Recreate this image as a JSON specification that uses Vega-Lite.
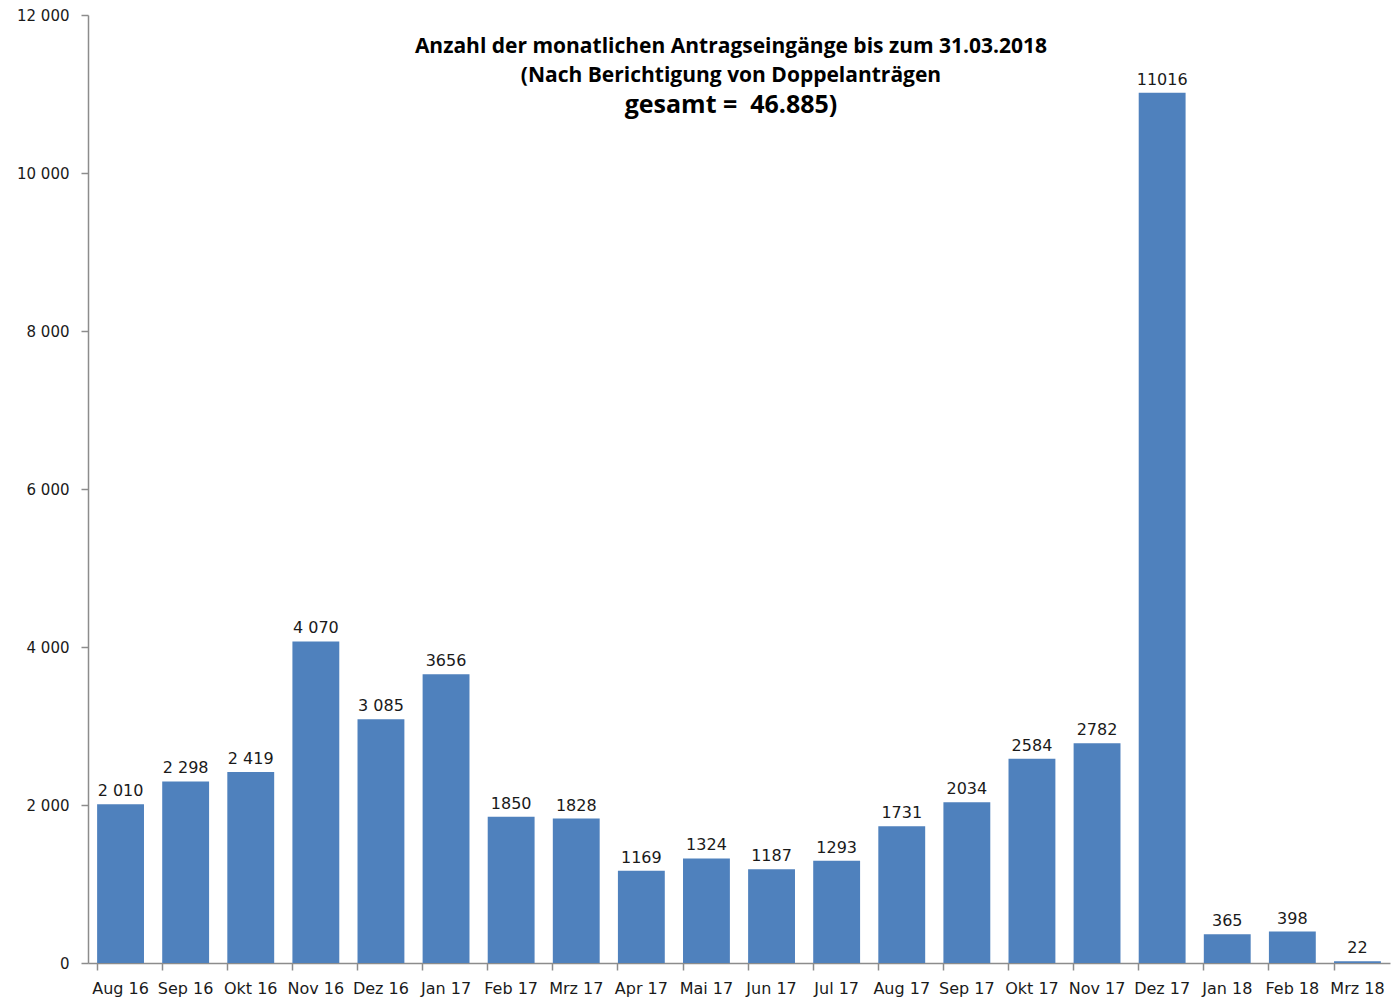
{
  "$schema": "https://vega.github.io/schema/vega-lite/v6.json",
  "width": 1302,
  "height": 948,
  "autosize": {"type": "none"},
  "padding": {"left": 88, "top": 15, "right": 10, "bottom": 35},
  "background": "white",
  "config": {
    "locale": {"number": {"decimal": ",", "thousands": " ", "grouping": [3], "currency": ["", " €"]}},
    "view": {"stroke": null},
    "font": "DejaVu Sans"
  },
  "title": {
    "text": ["Anzahl der monatlichen Antragseingänge bis zum 31.03.2018", "(Nach Berichtigung von Doppelanträgen"],
    "subtitle": "gesamt =\u00a0 46.885)",
    "anchor": "middle",
    "frame": "group",
    "orient": "top",
    "offset": -110,
    "font": "Open Sans",
    "fontSize": 21,
    "fontWeight": "bold",
    "color": "#000000",
    "lineHeight": 29,
    "subtitleFont": "Open Sans",
    "subtitleFontSize": 25,
    "subtitleFontWeight": "bold",
    "subtitleColor": "#000000",
    "subtitlePadding": 7,
    "dx": -8
  },
  "data": {
    "values": [
      {"monat": "Aug 16", "anzahl": 2010, "label": "2 010"},
      {"monat": "Sep 16", "anzahl": 2298, "label": "2 298"},
      {"monat": "Okt 16", "anzahl": 2419, "label": "2 419"},
      {"monat": "Nov 16", "anzahl": 4070, "label": "4 070"},
      {"monat": "Dez 16", "anzahl": 3085, "label": "3 085"},
      {"monat": "Jan 17", "anzahl": 3656, "label": "3656"},
      {"monat": "Feb 17", "anzahl": 1850, "label": "1850"},
      {"monat": "Mrz 17", "anzahl": 1828, "label": "1828"},
      {"monat": "Apr 17", "anzahl": 1169, "label": "1169"},
      {"monat": "Mai 17", "anzahl": 1324, "label": "1324"},
      {"monat": "Jun 17", "anzahl": 1187, "label": "1187"},
      {"monat": "Jul 17", "anzahl": 1293, "label": "1293"},
      {"monat": "Aug 17", "anzahl": 1731, "label": "1731"},
      {"monat": "Sep 17", "anzahl": 2034, "label": "2034"},
      {"monat": "Okt 17", "anzahl": 2584, "label": "2584"},
      {"monat": "Nov 17", "anzahl": 2782, "label": "2782"},
      {"monat": "Dez 17", "anzahl": 11016, "label": "11016"},
      {"monat": "Jan 18", "anzahl": 365, "label": "365"},
      {"monat": "Feb 18", "anzahl": 398, "label": "398"},
      {"monat": "Mrz 18", "anzahl": 22, "label": "22"}
    ]
  },
  "encoding": {
    "x": {
      "field": "monat",
      "type": "nominal",
      "sort": null,
      "scale": {"paddingInner": 0.28, "paddingOuter": 0.14},
      "axis": {
        "title": null,
        "labelAngle": 0,
        "bandPosition": 0,
        "domainColor": "#8c8c8c",
        "domainWidth": 1.5,
        "tickColor": "#8c8c8c",
        "tickWidth": 1.5,
        "tickSize": 7,
        "labelFontSize": 16,
        "labelColor": "#1a1a1a",
        "labelPadding": 10,
        "labelFont": "DejaVu Sans"
      }
    },
    "y": {
      "field": "anzahl",
      "type": "quantitative",
      "scale": {"domain": [0, 12000], "nice": false},
      "axis": {
        "title": null,
        "values": [0, 2000, 4000, 6000, 8000, 10000, 12000],
        "format": ",d",
        "grid": false,
        "domainColor": "#8c8c8c",
        "domainWidth": 1.5,
        "tickColor": "#8c8c8c",
        "tickWidth": 1.5,
        "tickSize": 7,
        "labelFontSize": 15,
        "labelColor": "#1a1a1a",
        "labelPadding": 12,
        "labelFont": "DejaVu Sans"
      }
    }
  },
  "layer": [
    {"mark": {"type": "bar", "color": "#4F81BD"}},
    {
      "mark": {"type": "text", "baseline": "bottom", "dy": -5, "fontSize": 16, "color": "#1a1a1a", "font": "DejaVu Sans"},
      "encoding": {"text": {"field": "label"}}
    }
  ]
}
